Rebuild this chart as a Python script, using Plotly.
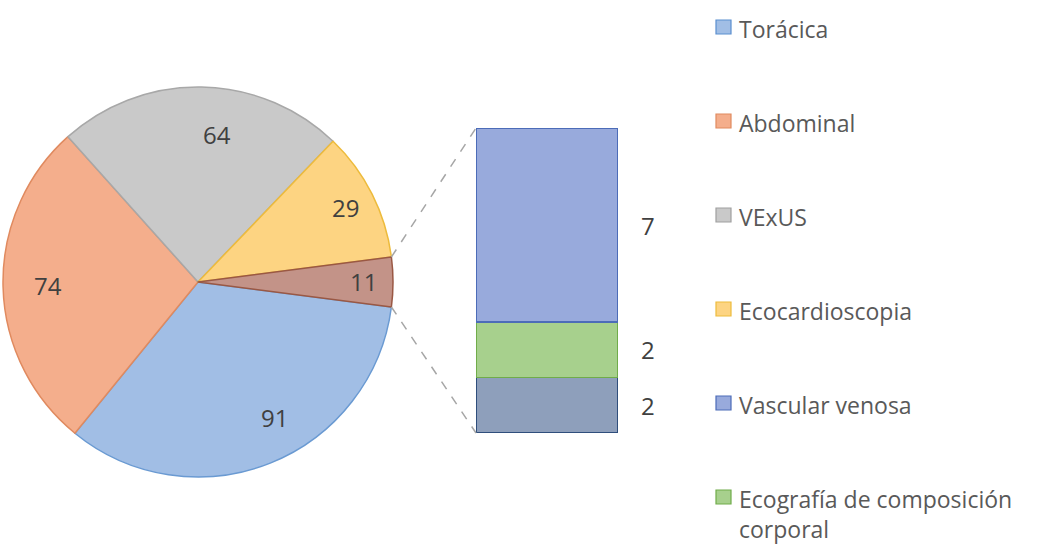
import math
import plotly.graph_objects as go

W, H = 1037, 545

# ---- data ----
pie_labels = ["Torácica", "Abdominal", "VExUS", "Ecocardioscopia", "Otros"]
pie_values = [91, 74, 64, 29, 11]
bar_labels = ["Otra", "Ecografía de composición corporal", "Vascular venosa"]
bar_values = [2, 2, 7]
legend_labels = ["Torácica", "Abdominal", "VExUS", "Ecocardioscopia",
                 "Vascular venosa", "Ecografía de composición<br>corporal"]

# ---- styles ----
pie_fill = ["#A1BEE5", "#F4AE8C", "#C9C9C9", "#FDD482", "#C39388"]
pie_line = ["#6A9AD2", "#E08A5F", "#A8A8A8", "#EDBB3C", "#9A5844"]
bar_fill = ["#8E9FBB", "#A7D08D", "#98AADC"]
bar_line = ["#2F4E7C", "#70AC4A", "#4C6CB8"]
legend_fill = ["#A1BEE5", "#F4AE8C", "#C9C9C9", "#FDD482", "#98AADC", "#A7D08D"]
legend_line = ["#5B8FCF", "#E08A5F", "#A0A0A0", "#EDBB3C", "#4C6CB8", "#70AC4A"]
TXT = "#404040"
FONT = "Open Sans"
NUM_SIZE = 24
LEG_SIZE = 23

def px(x):
    return x / W

def py(y):
    return 1 - y / H

# pie geometry (pixels)
cx, cy, R = 198, 282, 195
total = sum(pie_values)
rotation = 90 + pie_values[-1] / total * 360 / 2

# bar geometry (pixels)
bx0, bx1, by_top, by_bot = 476, 618, 128, 433

fig = go.Figure()
fig.add_trace(go.Pie(
    labels=pie_labels, values=pie_values, sort=False, direction="clockwise",
    rotation=rotation, textinfo="none", showlegend=False,
    marker=dict(colors=pie_fill, line=dict(color=pie_line, width=1.5)),
    domain=dict(x=[px(cx - R), px(cx + R)], y=[py(cy + R), py(cy - R)]),
    hoverinfo="label+value",
))

for lab, val, fc, lc in zip(bar_labels, bar_values, bar_fill, bar_line):
    fig.add_trace(go.Bar(
        x=[0], y=[val], name=lab, width=1, showlegend=False,
        marker=dict(color=fc, line=dict(color=lc, width=1.5)),
        xaxis="x", yaxis="y",
    ))

annotations = []
# pie labels
cum = 0
for v in pie_values:
    mid = rotation + (cum + v / 2) / total * 360
    a = math.radians(mid)
    rr = 0.85 * R
    lx = cx + rr * math.sin(a)
    ly = cy - rr * math.cos(a)
    annotations.append(dict(x=px(lx), y=py(ly), xref="paper", yref="paper",
                            text=str(v), showarrow=False,
                            font=dict(family=FONT, size=NUM_SIZE, color=TXT)))
    cum += v

# bar labels
cum = 0
for v in bar_values:
    annotations.append(dict(x=0.5, y=cum + v / 2, xref="x", yref="y",
                            text=str(v), showarrow=False, xanchor="left",
                            xshift=21, font=dict(family=FONT, size=NUM_SIZE, color=TXT)))
    cum += v

shapes = []
# connector lines
half = pie_values[-1] / total * math.pi
c_top = (cx + R * math.cos(half), cy - R * math.sin(half))
c_bot = (cx + R * math.cos(half), cy + R * math.sin(half))
for (x0, y0), (x1, y1) in [(c_top, (bx0, by_top)), (c_bot, (bx0, by_bot))]:
    shapes.append(dict(type="line", xref="paper", yref="paper",
                       x0=px(x0), y0=py(y0), x1=px(x1), y1=py(y1),
                       line=dict(color="#A6A6A6", width=1.5, dash="dash")))

# legend
ly0, lstep = 27, 94
for i, (lab, fc, lc) in enumerate(zip(legend_labels, legend_fill, legend_line)):
    yc = ly0 + i * lstep
    shapes.append(dict(type="rect", xref="paper", yref="paper",
                       x0=px(716), x1=px(731), y0=py(yc + 7), y1=py(yc - 7),
                       fillcolor=fc, line=dict(color=lc, width=1.2)))
    annotations.append(dict(x=px(737), y=py(yc - 16),
                            xref="paper", yref="paper",
                            text=lab, showarrow=False, xanchor="left",
                            yanchor="top", align="left",
                            font=dict(family=FONT, size=LEG_SIZE, color="#595959")))

fig.update_layout(
    width=W, height=H, margin=dict(l=0, r=0, t=0, b=0),
    paper_bgcolor="white", plot_bgcolor="white",
    barmode="stack", showlegend=False,
    xaxis=dict(domain=[px(bx0), px(bx1)], range=[-0.5, 0.5], visible=False,
               fixedrange=True),
    yaxis=dict(domain=[py(by_bot), py(by_top)], range=[0, sum(bar_values)],
               visible=False, fixedrange=True),
    annotations=annotations, shapes=shapes,
)

fig.write_html("out.html")
